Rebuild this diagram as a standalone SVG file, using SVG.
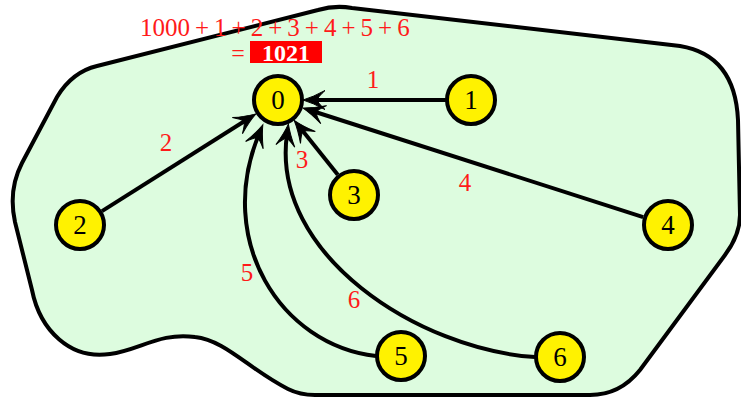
<svg xmlns="http://www.w3.org/2000/svg" width="741" height="397" viewBox="0 0 741 397">
<style>
.node circle{fill:#fff200;stroke:#000;stroke-width:4}
.node text{font-family:"Liberation Serif",serif;font-size:27px;fill:#000;text-anchor:middle}
.edge{fill:none;stroke:#000;stroke-width:4;marker-end:url(#ah)}
.lbl{font-family:"Liberation Serif",serif;font-size:25px;fill:#ff1a1a;text-anchor:middle}
</style>
<defs>
<marker id="ah" viewBox="-24 -11 26 22" markerWidth="26" markerHeight="22" refX="-10" refY="0" orient="auto" markerUnits="userSpaceOnUse">
<path d="M0,0 Q-10,-3 -22,-9.5 Q-15,-3 -14,0 Q-15,3 -22,9.5 Q-10,3 0,0 Z" fill="#000" stroke="#000" stroke-width="1"/>
</marker>
</defs>
<g id="region">
<path d="M97,66 L318,10 Q335,5 352,8 L680,46 Q735,55 738,120 L740,215 Q740,235 725,255 L640,370 Q620,395 590,395 L315,395 Q300,395 288,389 C250,370 225,340 195,337 C160,332 140,350 110,354 C70,360 40,330 32,290 L15,222 Q8,190 22,163 L57,97 Q72,72 97,66 Z" fill="#ddfcdf" stroke="#000" stroke-width="4"/>
</g>
<g id="connectors">
<path class="edge" d="M446,100 L313,100"/>
<path class="edge" d="M102,211.1 L247.5,119.2"/>
<path class="edge" d="M337.8,174.7 L300.4,128.1"/>
<path class="edge" d="M643.2,217.1 L312.3,111"/>
<path class="edge" d="M376,356 C280,345 215,240 259,134"/>
<path class="edge" d="M535,357 C420,350 270,255 287,134"/>
<text class="lbl" x="373" y="88">1</text>
<text class="lbl" x="166" y="151">2</text>
<text class="lbl" x="302" y="168">3</text>
<text class="lbl" x="465" y="191">4</text>
<text class="lbl" x="247" y="281">5</text>
<text class="lbl" x="354" y="308">6</text>
</g>
<g id="sum">
<text class="lbl" x="140" y="36" style="text-anchor:start;font-size:25px">1000<tspan dx="5">+</tspan><tspan dx="5">1</tspan><tspan dx="5">+</tspan><tspan dx="5">2</tspan><tspan dx="5">+</tspan><tspan dx="5">3</tspan><tspan dx="5">+</tspan><tspan dx="5">4</tspan><tspan dx="5">+</tspan><tspan dx="5">5</tspan><tspan dx="5">+</tspan><tspan dx="5">6</tspan></text>
<text class="lbl" x="238" y="61" style="font-size:24px">=</text>
<rect x="250" y="41" width="72" height="22" fill="#ff0000"/>
<text x="286" y="61" style="font-family:'Liberation Serif',serif;font-size:24px;font-weight:bold;fill:#fff;text-anchor:middle">1021</text>
</g>
<g id="n0" class="node"><circle cx="278" cy="100" r="24"/><text x="278" y="109">0</text></g>
<g id="n1" class="node"><circle cx="471" cy="100" r="24"/><text x="471" y="109">1</text></g>
<g id="n2" class="node"><circle cx="80" cy="225" r="24"/><text x="80" y="234">2</text></g>
<g id="n3" class="node"><circle cx="354" cy="195" r="24"/><text x="354" y="204">3</text></g>
<g id="n4" class="node"><circle cx="668" cy="225" r="24"/><text x="668" y="234">4</text></g>
<g id="n5" class="node"><circle cx="401" cy="356" r="24"/><text x="401" y="365">5</text></g>
<g id="n6" class="node"><circle cx="560" cy="357" r="24"/><text x="560" y="366">6</text></g>
</svg>
